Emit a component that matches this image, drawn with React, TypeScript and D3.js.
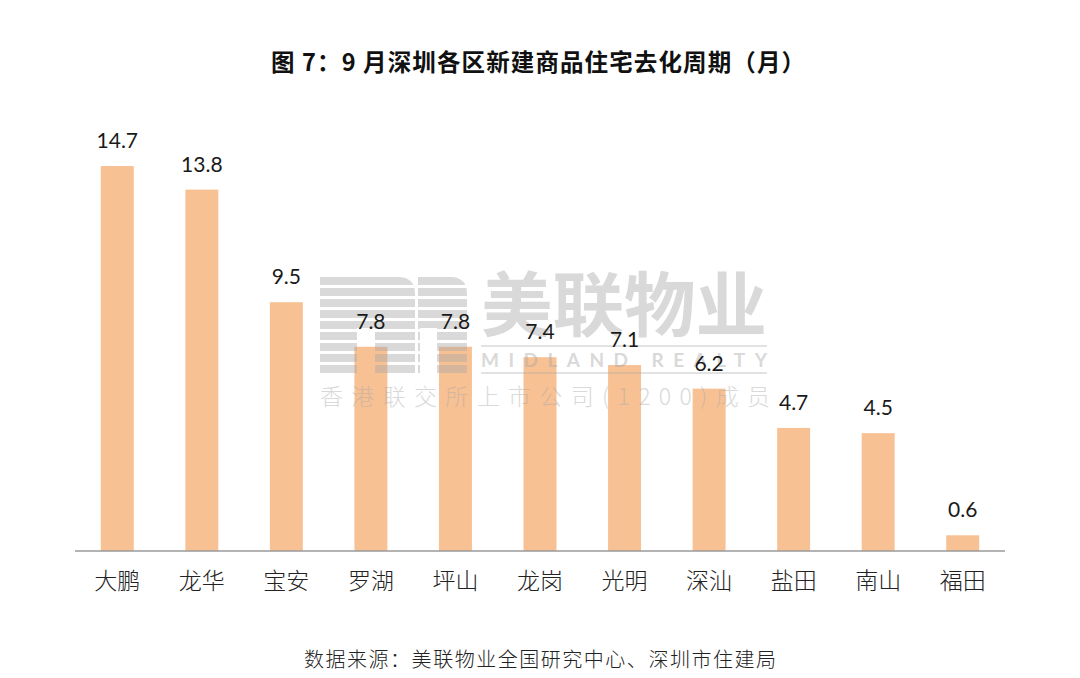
import React from 'react';
import * as d3 from 'd3';

const districts = ['大鹏', '龙华', '宝安', '罗湖', '坪山', '龙岗', '光明', '深汕', '盐田', '南山', '福田'];
const months = [14.7, 13.8, 9.5, 7.8, 7.8, 7.4, 7.1, 6.2, 4.7, 4.5, 0.6];
const title = '图 7：9 月深圳各区新建商品住宅去化周期（月）';
const source = '数据来源：美联物业全国研究中心、深圳市住建局';

const W = 1080;
const H = 678;
const margin = { top: 132, right: 75, bottom: 127, left: 75 };

const cjk = '"Noto Sans CJK SC", "Noto Sans", sans-serif';

function Watermark() {
    // faint company logo sitting behind the value labels
    const stripes = d3.range(9).map((i) => 277 + i * 11);
    return (
        <g opacity={0.42}>
            <defs>
                <clipPath id="logo-m">
                    <path d="M320,277 H398 Q415,277 415,294 V375 H375 V328 H357 V375 H320 Z" />
                    <path d="M418,277 H450 Q467,277 467,294 V375 H437 V328 H420 V375 H418 Z" />
                </clipPath>
            </defs>
            <g clipPath="url(#logo-m)">
                {stripes.map((y) => (
                    <rect key={y} x={318} y={y} width={152} height={8} fill="#a6a6a6" />
                ))}
            </g>
            <text x={481} y={331} fontFamily={cjk} fontWeight={700} fontSize={70}
                textLength={286} lengthAdjust="spacingAndGlyphs" fill="#a6a6a6">美联物业</text>
            <line x1={481} x2={767} y1={346} y2={346} stroke="#a6a6a6" strokeWidth={1.5} />
            <text x={481} y={367} fontFamily="Lato, sans-serif" fontWeight={700} fontSize={19}
                textLength={286} lengthAdjust="spacing" fill="#a6a6a6">MIDLAND REALTY</text>
            <line x1={481} x2={767} y1={373} y2={373} stroke="#a6a6a6" strokeWidth={1.5} />
            <text x={320} y={405} fontFamily={cjk} fontWeight={300} fontSize={23}
                textLength={450} lengthAdjust="spacing" fill="#a6a6a6">香港联交所上市公司(1200)成员</text>
        </g>
    );
}

export default function App() {
    const x = d3.scaleBand<string>()
        .domain(districts)
        .range([margin.left, W - margin.right])
        .paddingInner(0.61)
        .paddingOuter(0.305);

    const y = d3.scaleLinear()
        .domain([0, 16])
        .range([H - margin.bottom, margin.top]);

    const base = y(0);

    return (
        <svg width={W} height={H} style={{ display: 'block', position: 'absolute', left: 0, top: 0 }}
            viewBox={`0 0 ${W} ${H}`}>
            <rect width={W} height={H} fill="#fff" />
            <text x={271} y={71} fontFamily={cjk} fontWeight={700}
                fontSize={23.5} textLength={534} lengthAdjust="spacing" fill="#111">{title}</text>

            {districts.map((d, i) => (
                <rect key={d} x={x(d)} y={y(months[i])} width={x.bandwidth()}
                    height={base - y(months[i])} fill="#F8C194" />
            ))}

            <Watermark />

            <line x1={margin.left} x2={W - margin.right} y1={base} y2={base} stroke="#9a9a9a" strokeWidth={1.5} />

            {districts.map((d, i) => (
                <text key={d} x={(x(d) ?? 0) + x.bandwidth() / 2} y={y(months[i]) - 18}
                    textAnchor="middle" fontFamily="Lato, 'Open Sans', sans-serif" fontSize={21}
                    fill="#1a1a1a">{months[i].toFixed(1)}</text>
            ))}

            {districts.map((d) => (
                <text key={d} x={(x(d) ?? 0) + x.bandwidth() / 2} y={base + 38}
                    textAnchor="middle" fontFamily={cjk} fontWeight={300} fontSize={23}
                    fill="#222">{d}</text>
            ))}

            <text x={304} y={667} fontFamily={cjk} fontWeight={300}
                fontSize={20} textLength={472} lengthAdjust="spacing" fill="#222">{source}</text>
        </svg>
    );
}
